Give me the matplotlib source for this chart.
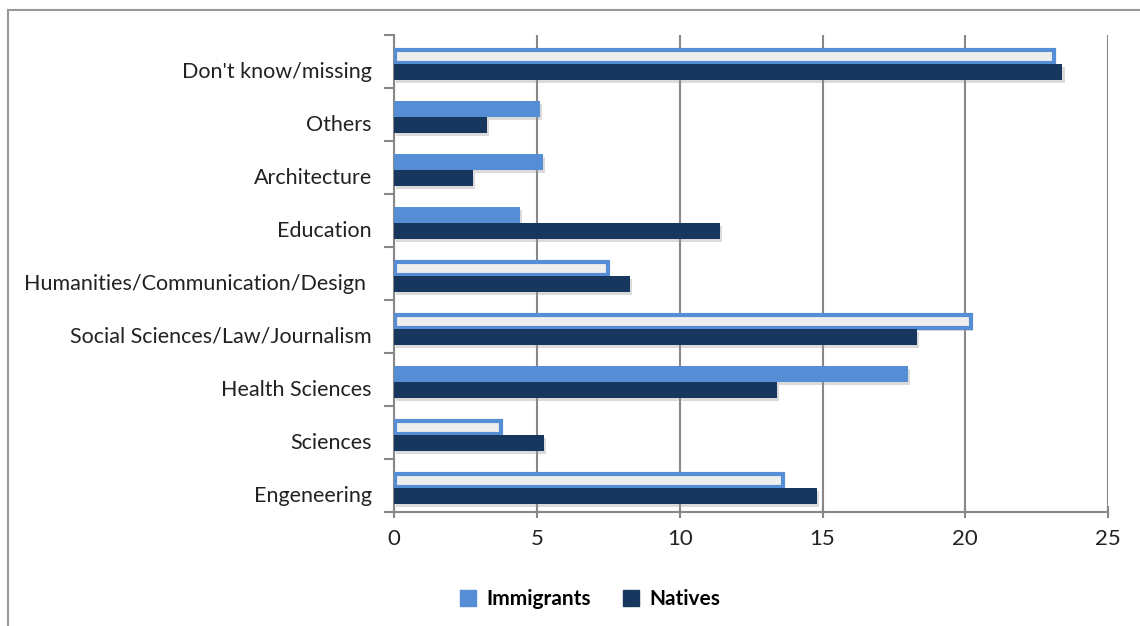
import numpy as np
import matplotlib.pyplot as plt
import matplotlib.patheffects as pe
import matplotlib.transforms as mtransforms
from matplotlib.lines import Line2D

plt.rcParams['font.family'] = ['Lato', 'DejaVu Sans']

# categories, bottom to top
categories = ['Engeneering', 'Sciences', 'Health Sciences',
              'Social Sciences/Law/Journalism',
              'Humanities/Communication/Design ', 'Education',
              'Architecture', 'Others', "Don't know/missing"]
immigrants = [13.6, 3.75, 18.0, 20.2, 7.5, 4.4, 5.2, 5.1, 23.1]
natives = [14.8, 5.25, 13.4, 18.3, 8.25, 11.4, 2.75, 3.25, 23.4]
# immigrant bars drawn as outlined boxes in the original
hollow = [True, True, False, True, True, False, False, False, True]

c_imm = '#558ED5'
c_nat = '#17375E'

fig = plt.figure(figsize=(11.4, 6.26), dpi=100)
ax = fig.add_axes([0.3456, 0.182, 0.6265, 0.762])

y = np.arange(len(categories))
h = 0.3
shadow = [pe.SimplePatchShadow(offset=(1.5, -2), shadow_rgbFace='#999999', alpha=0.35), pe.Normal()]

for i in range(len(categories)):
    if hollow[i]:
        ax.barh(y[i] + h / 2 - 0.05, immigrants[i] - 0.05, h * 0.82, left=0.05,
                color='#eeeeee', edgecolor=c_imm, linewidth=3,
                path_effects=shadow, zorder=3)
    else:
        ax.barh(y[i] + h / 2 - 0.05, immigrants[i], h, color=c_imm,
                path_effects=shadow, zorder=3)
ax.barh(y - h / 2 - 0.05, natives, h, color=c_nat, path_effects=shadow, zorder=3)

ax.set_xlim(0, 25)
ax.set_ylim(-0.5, len(categories) - 0.5)
ax.set_xticks([0, 5, 10, 15, 20, 25])
ax.set_yticks(y)
ax.set_yticklabels(categories, fontsize=15.5, color='#222222')
ax.set_yticks(np.arange(-0.5, len(categories), 1), minor=True)
ax.tick_params(axis='y', which='major', length=0, pad=16)
ax.tick_params(axis='y', which='minor', length=7, color='#888888', width=1.5)
ax.tick_params(axis='x', length=8, direction='inout', color='#888888',
               width=1.5, labelsize=16, pad=8)
shift = mtransforms.ScaledTranslation(0, -8 / 100, fig.dpi_scale_trans)
for lab in ax.get_yticklabels():
    lab.set_transform(lab.get_transform() + shift)
for lab in ax.get_xticklabels():
    lab.set_color('#222222')

ax.grid(axis='x', color='#888888', linewidth=1.5, zorder=0)
for s in ['top', 'right']:
    ax.spines[s].set_visible(False)
for s in ['left', 'bottom']:
    ax.spines[s].set_color('#888888')
    ax.spines[s].set_linewidth(1.5)

handles = [Line2D([], [], marker='s', linestyle='', markersize=11, color=c_imm),
           Line2D([], [], marker='s', linestyle='', markersize=11, color=c_nat)]
fig.legend(handles, ['Immigrants', 'Natives'], loc='center',
           bbox_to_anchor=(0.512, 0.043), ncol=2, frameon=False,
           prop={'size': 15, 'weight': 'bold'}, handletextpad=-0.1,
           columnspacing=0.9)

# outer frame
fig.add_artist(Line2D([8 / 1140, 8 / 1140], [0, 1 - 10 / 626],
                      color='#999999', linewidth=1.5))
fig.add_artist(Line2D([8 / 1140, 1], [1 - 10 / 626, 1 - 10 / 626],
                      color='#999999', linewidth=1.5))

fig.savefig('out.png', dpi=100)
